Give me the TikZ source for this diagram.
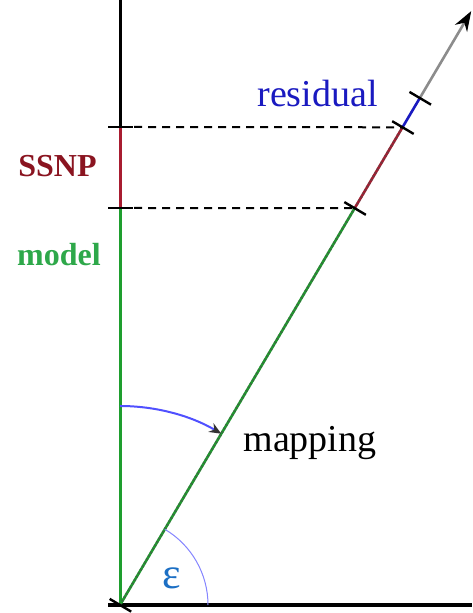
\documentclass[tikz,border=0pt]{standalone}
\usepackage{fontspec}
\setmainfont{Liberation Serif}
\usetikzlibrary{arrows.meta,calc}
\definecolor{cG}{HTML}{1E9E2E}
\definecolor{cR}{HTML}{A81C30}
\definecolor{cB}{HTML}{1A1AC0}
\definecolor{cL}{HTML}{5050FF}
\definecolor{cE}{HTML}{1C6FC4}
\definecolor{cM}{HTML}{2EA84A}
\definecolor{cS}{HTML}{8A1420}
\tikzset{
  axis/.style={line width=1.5pt,black},
  ray/.style={line width=1.3pt},
  dots/.style={line width=1.3pt,black!70,dash pattern=on 1pt off 1pt,opacity=.5},
  tick/.style={line width=1.2pt,black},
  guide/.style={line width=1pt,black,dash pattern=on 4pt off 3pt},
  lbl/.style={font=\fontsize{19}{22}\selectfont,anchor=base},
  tag/.style={font=\fontsize{16}{19}\selectfont\bfseries,anchor=base},
}
\begin{document}
\begin{tikzpicture}[x=0.5pt,y=0.5pt]
  \useasboundingbox (-120,-8) rectangle (352,605);
  % axes
  \coordinate (O) at (0,0);
  \coordinate (top) at (0,605);
  \coordinate (xbeg) at (-12,0);
  \coordinate (xend) at (352,0);
  \coordinate (v1) at (0,397);
  \coordinate (v2) at (0,478);
  % points on the mapped ray
  \coordinate (d1) at (59.4:461);
  \coordinate (d2) at (59.4:555);
  \coordinate (d3) at (59.4:589);
  \coordinate (tip) at (59.4:690);
  \draw[axis] (xbeg) -- (xend);
  \draw[axis,cG] (O) -- (v1);
  \draw[axis,cR] (v1) -- (v2);
  \draw[axis] (v2) -- (top);
  \draw[ray,cG] (O) -- (d1);
  \draw[dots] (O) -- (d1);
  \draw[ray,cR] (d1) -- (d2);
  \draw[dots] (d1) -- (d2);
  \draw[ray,cB] (d2) -- (d3);
  \draw[ray,black!45,-{Stealth[length=10pt,width=7pt,black]}] (d3) -- (tip);
  % ticks
  \foreach \p in {v1,v2}
    \draw[tick] ($(\p)+(-12,0)$) -- ($(\p)+(13,0)$);
  \foreach \p in {O,d1,d2,d3}
    \draw[tick] ($(\p)+(149.4:12)$) -- ($(\p)+(-30.6:13)$);
  \draw[guide] ($(v1)+(14,0)$) -- (d1);
  \draw[guide] ($(v2)+(14,0)$) -- (d2);
  % angles
  \draw[cL,line width=1pt,-{Stealth[length=6pt,width=5pt,black!80]}]
    (0,199) arc[start angle=90,end angle=59.4,radius=199];
  \draw[cL!70,line width=.5pt] (88,0) arc[start angle=0,end angle=59.4,radius=88];
  % labels
  \node[lbl,text=cB] (res) at (197.5,498) {residual};
  \node[lbl] (map) at (190,153) {mapping};
  \node[tag,text=cS] (ssnp) at (-62.5,428) {SSNP};
  \node[tag,text=cM] (mod) at (-61,339) {model};
  \node[font=\fontsize{22}{24}\selectfont,text=cE] (eps) at (52,27) {ε};
\end{tikzpicture}
\end{document}
